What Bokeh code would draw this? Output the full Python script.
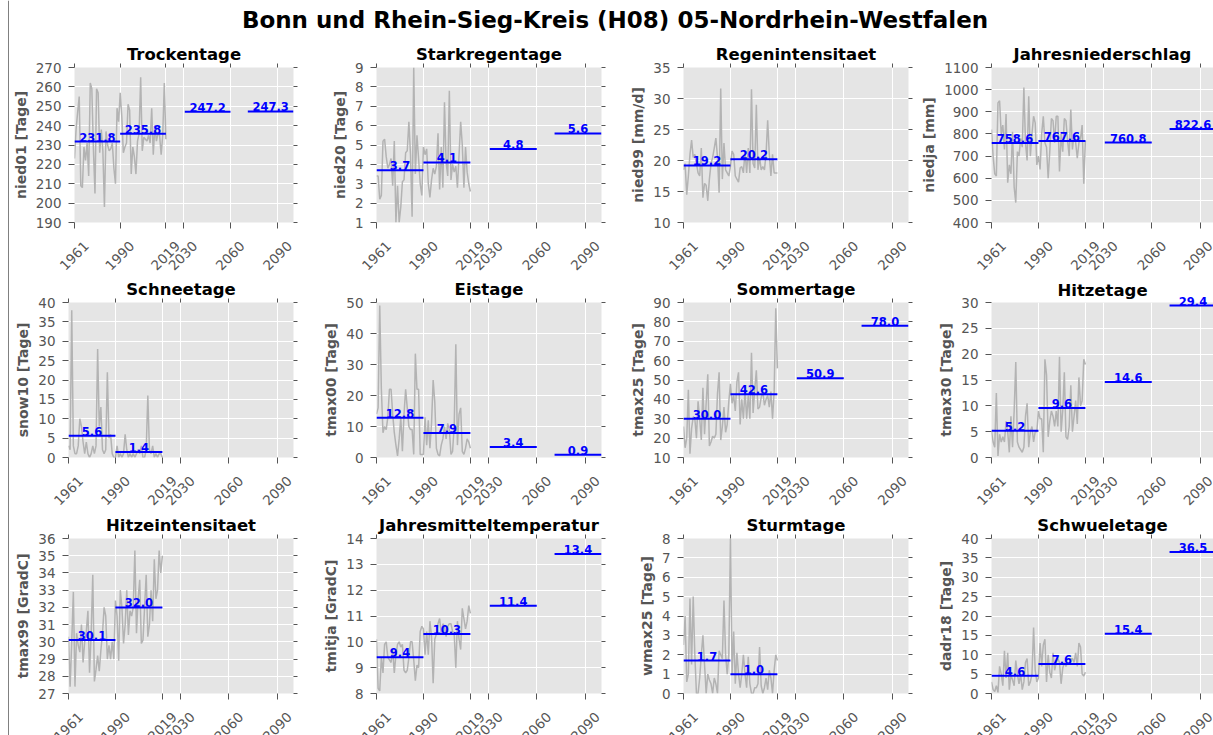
from bokeh.plotting import figure
from bokeh.models import (FixedTicker, LinearAxis, Label, Range1d, CustomJSTickFormatter, Span)
from bokeh.layouts import column, row
from bokeh.embed import file_html
from bokeh.resources import INLINE
from math import pi

# ---------------- data ----------------
main_title = "Bonn und Rhein-Sieg-Kreis (H08) 05-Nordrhein-Westfalen"
years = list(range(1961, 2020))
period_start = [1961, 1990, 2031, 2071]
period_end = [1990, 2019, 2060, 2100]
xticks = [1961, 1990, 2019, 2030, 2060, 2090]

titles = ["Trockentage", "Starkregentage", "Regenintensitaet", "Jahresniederschlag",
          "Schneetage", "Eistage", "Sommertage", "Hitzetage",
          "Hitzeintensitaet", "Jahresmitteltemperatur", "Sturmtage", "Schwueletage"]
ylabels = ["nied01 [Tage]", "nied20 [Tage]", "nied99 [mm/d]", "niedja [mm]",
           "snow10 [Tage]", "tmax00 [Tage]", "tmax25 [Tage]", "tmax30 [Tage]",
           "tmax99 [GradC]", "tmitja [GradC]", "wmax25 [Tage]", "dadr18 [Tage]"]
ylims = [(190, 270), (1, 9), (10, 35), (400, 1100),
         (0, 40), (0, 50), (10, 90), (0, 30),
         (27, 36), (8, 14), (0, 8), (0, 40)]
ysteps = [10, 1, 5, 100, 5, 10, 10, 5, 1, 1, 1, 5]

nied01 = [223, 238, 247, 255, 209, 208, 229, 222, 231, 214,
          262, 259, 228, 205, 259, 257, 226, 238, 227, 198,
          237, 230, 227, 228, 231, 218, 210, 249, 242, 257,
          245, 226, 229, 231, 251, 248, 215, 229, 224, 215,
          232, 236, 265, 227, 234, 233, 232, 235, 231, 249,
          225, 240, 232, 236, 235, 225, 235, 262, 233]
nied20 = [3.4, 3.4, 2.2, 2.4, 5.2, 5.3, 4.4, 3.8, 4.0, 4.3,
          2.9, 5.2, 1.0, 2.9, 1.0, 1.8, 3.1, 3.2, 4.6, 4.7,
          6.2, 4.5, 1.3, 9.0, 3.5, 5.5, 4.3, 3.0, 2.4, 4.9,
          4.5, 4.8, 3.0, 2.3, 3.2, 3.8, 3.5, 3.9, 5.6, 2.7,
          4.9, 2.8, 7.2, 4.1, 3.4, 7.8, 3.2, 4.0, 3.6, 3.9,
          2.8, 4.5, 6.2, 5.0, 2.8, 4.9, 3.6, 3.0, 2.6]
nied99 = [18.5, 19.5, 14.5, 17.5, 21.0, 23.3, 20.5, 21.0, 19.5, 18.0,
          17.5, 22.0, 14.0, 16.3, 16.0, 13.5, 17.0, 19.5, 20.5, 22.0,
          23.6, 20.5, 14.8, 31.6, 17.0, 22.8, 18.5, 18.0, 17.5, 19.0,
          21.5, 21.0, 17.5, 17.0, 16.5, 18.8, 19.0, 18.0, 21.5, 18.0,
          22.0, 18.0, 31.5, 19.5, 18.8, 29.0, 18.5, 20.5, 18.5, 19.0,
          18.5, 21.0, 26.5, 21.0, 17.5, 21.0, 18.0, 18.0, 18.0]
niedja = [820, 700, 620, 610, 940, 950, 800, 840, 730, 890,
          580, 660, 620, 810, 560, 490, 720, 700, 780, 740,
          1010, 760, 680, 970, 700, 800, 880, 850, 660, 700,
          640, 800, 880, 760, 740, 600, 720, 870, 860, 760,
          880, 880, 630, 800, 720, 870, 860, 770, 700, 910,
          730, 800, 760, 690, 760, 780, 840, 575, 770]
snow10 = [3, 2, 38, 3, 1, 1, 3, 10, 8, 4,
          1, 4, 1, 0, 1, 3, 1, 3, 28, 8,
          13, 2, 1, 2, 22, 5, 6, 1, 0, 0,
          3, 0, 1, 0, 1, 6, 2, 0, 1, 0,
          1, 0, 1, 2, 1, 3, 0, 0, 2, 16,
          2, 1, 3, 0, 1, 0, 1, 1, 0]
tmax00 = [14, 16, 49, 22, 8, 10, 9, 13, 22, 22,
          14, 8, 4, 0.5, 6, 13, 2, 14, 22, 16,
          10, 9, 9, 1, 33.5, 22, 22, 1, 1, 1,
          13, 4, 12, 3, 11, 25, 18, 3, 1, 0.5,
          4, 6, 10, 6, 11, 9, 1, 2, 10, 36.5,
          4, 14, 16, 2, 1, 3, 6, 5, 3]
tmax25 = [26, 15, 20, 45, 12, 25, 31, 30, 20, 39,
          30, 19, 46, 22, 38, 53, 16, 18, 21, 20,
          22, 43, 54, 19, 26, 36, 23, 27, 39, 48,
          38, 42, 34, 49, 54, 27, 40, 30, 45, 30,
          42, 30, 64, 33, 45, 55, 35, 36, 41, 44,
          37, 40, 42, 36, 44, 30, 44, 87, 56]
tmax30 = [5, 3, 2, 12.5, 0.3, 4.5, 3, 4, 3, 7,
          5, 1, 8, 2, 9, 18.5, 3, 2, 1.5, 1,
          2, 8, 10.5, 2, 5, 6, 3, 5, 5, 9,
          7.5, 7.5, 1, 19, 16, 4, 7, 9, 8, 6,
          9, 6, 19.5, 5, 9, 16.5, 4, 3.5, 6, 14,
          5, 8, 11, 6.5, 15.5, 10, 11, 19, 18]
tmax99 = [30.3, 27.4, 30.0, 32.9, 27.4, 30.5, 29.8, 29.4, 31.0, 28.8,
          30.0, 30.6, 31.8, 28.2, 30.5, 33.9, 27.7, 28.4, 29.2, 28.3,
          29.5, 30.5, 32.0, 31.5, 29.0, 29.8, 29.0, 30.0, 29.0, 32.4,
          31.5, 28.9, 33.0, 32.0, 29.9, 31.0, 33.0, 30.4, 31.8, 31.5,
          32.0, 35.3, 30.5, 32.5, 33.6, 29.9, 30.1, 32.0, 33.9, 30.3,
          31.0, 33.0, 31.2, 34.8, 32.5, 33.0, 35.3, 34.0, 35.0]
tmitja = [10.1, 8.2, 8.1, 9.4, 8.8, 9.9, 10.0, 9.4, 9.3, 9.2,
          9.7, 8.8, 9.5, 9.9, 10.0, 9.8, 9.9, 8.9, 8.8, 8.9,
          9.4, 10.0, 10.0, 9.3, 8.5, 9.1, 9.0, 10.4, 10.6, 10.5,
          9.5, 10.4, 9.5, 10.8, 10.2, 8.4, 10.1, 10.3, 10.7, 10.9,
          10.3, 10.7, 10.6, 10.2, 10.6, 10.7, 10.7, 10.4, 10.3, 9.0,
          10.8, 10.1, 9.7, 11.3, 10.9, 10.5, 10.8, 11.4, 11.1]
wmax25 = [2.5, 4.0, 0.6, 1.0, 4.9, 1.5, 5.0, 2.0, 0, 0,
          0.8, 2.0, 3.0, 1.5, 0, 1.0, 0.7, 0.5, 0, 0.8,
          0.5, 0, 2.2, 2.0, 1.8, 4.8, 2.0, 1.0, 2.0, 8.0,
          1.0, 3.2, 0.5, 2.1, 1.0, 0.3, 1.0, 2.0, 1.0, 0.3,
          1.9, 0.5, 0, 0, 0.3, 0.3, 0.5, 2.4, 0.4, 0,
          0.3, 0.8, 0.2, 1.2, 0.8, 0, 1.2, 2.0, 1.7]
dadr18 = [3, 1, 0.5, 2, 0.3, 7, 5, 2, 11, 4,
          10.5, 1, 5, 3.5, 2, 8.5, 5, 2.5, 5, 1,
          3, 8, 9, 2, 3, 5, 17, 6, 3, 4,
          13, 7, 12.5, 14, 3, 10, 5.5, 4, 10.5, 6,
          8, 9, 8, 2.5, 6.5, 8, 7, 8, 7.5, 9,
          9, 8, 10.5, 7, 13, 12, 5, 4.5, 5.5]

series = [nied01, nied20, nied99, niedja, snow10, tmax00, tmax25, tmax30,
          tmax99, tmitja, wmax25, dadr18]

means = [[231.8, 235.8, 247.2, 247.3],
         [3.7, 4.1, 4.8, 5.6],
         [19.2, 20.2],
         [758.6, 767.6, 760.8, 822.6],
         [5.6, 1.4],
         [12.8, 7.9, 3.4, 0.9],
         [30.0, 42.6, 50.9, 78.0],
         [5.2, 9.6, 14.6, 29.4],
         [30.1, 32.0],
         [9.4, 10.3, 11.4, 13.4],
         [1.7, 1.0],
         [4.6, 7.6, 15.4, 36.5]]

# ---------------- styling / layout ----------------
FONT = "DejaVu Sans"
GRAY = "#555555"
BG = "#e5e5e5"
BLUE = "#0000ff"
FW, FH = 225, 155
YEARS_SPAN = 2100 - 1961
STRIP = 9
LB = [59, 75, 75, 75]
RB = [8, 7, 8, 0]
FWS = [225, 225, 225, 222]
TB = 22
BB = [58, 59, 58]
TITLE_H = 45
PAGE_H = 735
LABEL_SHIFT_PX = 12.0


def blank_formatter(s=""):
    return CustomJSTickFormatter(args=dict(t=s), code="return t")


def text_formatter(txt):
    return CustomJSTickFormatter(args=dict(t=txt), code="return t")


def tick_axis(ticks, out=4, blank="", font="1px"):
    return LinearAxis(ticker=FixedTicker(ticks=ticks), formatter=blank_formatter(blank),
                      axis_line_color=None, major_tick_line_color=GRAY,
                      major_tick_out=out, major_tick_in=0, minor_tick_out=0, minor_tick_in=0,
                      major_label_standoff=0, major_label_text_font_size=font)


def make_panel(k):
    r, c = divmod(k, 4)
    ylo, yhi = ylims[k]
    step = ysteps[k]
    yt = []
    v = ylo
    while v <= yhi + 1e-9:
        yt.append(v)
        v += step
    fw = FWS[c]
    xend = 1961 + fw * YEARS_SPAN / FW
    width = LB[c] + fw + RB[c]
    height = TB + FH + BB[r]
    p = figure(width=width, height=height,
               x_range=Range1d(1961, xend), y_range=Range1d(ylo, yhi),
               toolbar_location=None, output_backend="svg",
               min_border=0,
               min_border_left=LB[c], min_border_right=RB[c],
               min_border_top=TB, min_border_bottom=BB[r],
               background_fill_color=BG, border_fill_color="white",
               outline_line_color=None)

    # title
    p.title.text = titles[k]
    p.title.align = "center"
    p.title.text_font = FONT
    p.title.text_font_style = "bold"
    p.title.text_font_size = "16.5px"
    p.title.text_color = "black"
    p.title.standoff = -19

    # grid
    p.xgrid[0].ticker = FixedTicker(ticks=xticks)
    p.ygrid[0].ticker = FixedTicker(ticks=yt)
    for g in (p.xgrid[0], p.ygrid[0]):
        g.grid_line_color = "white"
        g.grid_line_width = 1

    # left axis
    ya = p.yaxis[0]
    ya.ticker = FixedTicker(ticks=yt)
    ya.axis_line_color = None
    ya.major_tick_line_color = GRAY
    ya.major_tick_out = 6
    ya.major_tick_in = 0
    ya.minor_tick_out = 0
    ya.minor_tick_in = 0
    ya.major_label_standoff = 7
    ya.major_label_text_font = FONT
    ya.major_label_text_font_size = "13.5px"
    ya.major_label_text_color = GRAY
    ya.axis_label = ylabels[k]
    ya.axis_label_text_font = FONT
    ya.axis_label_text_font_style = "bold"
    ya.axis_label_text_font_size = "14px"
    ya.axis_label_text_color = GRAY
    ya.axis_label_standoff = 4

    # bottom axis: tick marks only
    xa = p.xaxis[0]
    xa.ticker = FixedTicker(ticks=xticks)
    xa.formatter = blank_formatter()
    xa.axis_line_color = None
    xa.major_tick_line_color = GRAY
    xa.major_tick_out = 6
    xa.major_tick_in = 0
    xa.minor_tick_out = 0
    xa.minor_tick_in = 0
    xa.major_label_standoff = 0
    xa.major_label_text_font_size = "1px"

    # rotated x tick labels, centred under each tick (axis on a shifted range)
    shift = LABEL_SHIFT_PX * YEARS_SPAN / FW
    p.extra_x_ranges = {"lab": Range1d(1961 - shift, xend - shift)}
    lab = LinearAxis(x_range_name="lab", ticker=FixedTicker(ticks=xticks),
                     axis_line_color=None,
                     major_tick_line_color=None, major_tick_out=0, major_tick_in=0,
                     minor_tick_out=0, minor_tick_in=0,
                     major_label_standoff=15, major_label_orientation=pi / 4,
                     major_label_text_font=FONT, major_label_text_font_size="13.5px",
                     major_label_text_color=GRAY)
    p.add_layout(lab, "below")

    # series and period means
    p.line(years, series[k], line_color="#b3b3b3", line_width=1.5)
    m = means[k]
    n = len(m)
    p.segment(x0=period_start[:n], y0=m, x1=period_end[:n], y1=m,
              line_color=BLUE, line_width=2)

    top_done = False
    for i in range(n):
        ctr = (period_start[i] + period_end[i]) / 2
        txt = f"{m[i]:.1f}"
        off = (yhi - m[i]) / (yhi - ylo) * FH
        if off < 12:
            # label straddles the top edge: carry it on the top axis
            ax = LinearAxis(ticker=FixedTicker(ticks=[ctr]), formatter=text_formatter(txt),
                            axis_line_color=None, major_tick_line_color=None,
                            major_tick_out=4, major_tick_in=0, minor_tick_out=0, minor_tick_in=0,
                            major_label_standoff=-int(round(4 + off)),
                            major_label_text_font=FONT, major_label_text_font_style="bold",
                            major_label_text_font_size="11.5px", major_label_text_color=BLUE)
            p.add_layout(ax, "above")
            p.title.standoff = -13
            top_done = True
        else:
            ax = LinearAxis(ticker=FixedTicker(ticks=[ctr]), formatter=text_formatter(txt),
                            fixed_location=m[i], axis_line_color=None,
                            major_tick_line_color=None, major_tick_out=0, major_tick_in=0,
                            minor_tick_out=0, minor_tick_in=0, major_label_standoff=0,
                            major_label_text_font=FONT, major_label_text_font_style="bold",
                            major_label_text_font_size="11.5px", major_label_text_color=BLUE)
            p.add_layout(ax, "above")

    # top / right tick marks
    if not top_done:
        p.add_layout(tick_axis(xticks, blank=" ", font="6px"), "above")
    if RB[c] > 0:
        p.add_layout(tick_axis(yt), "right")
    return p


strip = figure(width=STRIP, height=PAGE_H,
               x_range=Range1d(0, STRIP), y_range=Range1d(0, 1),
               x_axis_type=None, y_axis_type=None, toolbar_location=None,
               output_backend="svg", min_border=0, outline_line_color=None)
strip.grid.visible = False
strip.add_layout(Span(location=8.5, dimension="height", line_color="black", line_width=1))

TOTAL_W = sum(LB[c] + FWS[c] + RB[c] for c in range(4))
tp = figure(width=TOTAL_W, height=TITLE_H, x_range=Range1d(0, TOTAL_W), y_range=Range1d(0, TITLE_H),
            x_axis_type=None, y_axis_type=None, toolbar_location=None, output_backend="svg",
            min_border=0, outline_line_color=None)
tp.grid.visible = False
tp.add_layout(Label(x=614.5 - STRIP, y=26, text=main_title, text_align="center",
                    text_baseline="alphabetic", text_font=FONT, text_font_style="bold",
                    text_font_size="23px", text_color="black"))

panels = [make_panel(k) for k in range(12)]
rows = [row(*panels[i * 4:(i + 1) * 4], spacing=0) for i in range(3)]
layout = row(strip, column(tp, *rows, spacing=0), spacing=0,
             width=STRIP + TOTAL_W, height=PAGE_H, styles={"overflow": "hidden"})

open("out.html", "w").write(file_html(layout, INLINE))
